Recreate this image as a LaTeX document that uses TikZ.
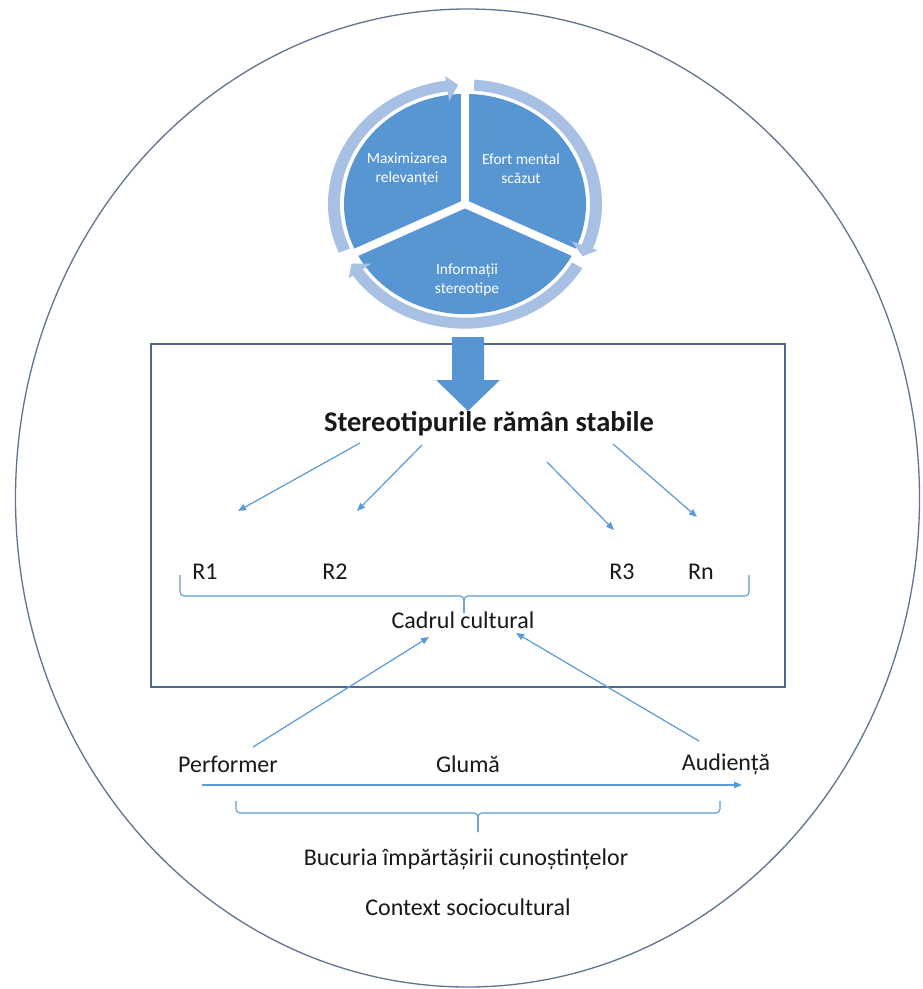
\documentclass[tikz,border=0pt]{standalone}
\usepackage{fontspec}
\setmainfont{Carlito}
\usetikzlibrary{arrows.meta}

\definecolor{accent}{RGB}{91,155,213}
\definecolor{piefill}{RGB}{88,150,211}
\definecolor{ringfill}{RGB}{168,192,228}
\definecolor{framecol}{RGB}{96,116,142}
\definecolor{boxcol}{RGB}{80,106,138}
\definecolor{inkcol}{RGB}{25,25,25}

\tikzset{
  link/.style={draw=accent, line width=1.2pt, -{Triangle[length=8pt,width=6.5pt]}},
  bracket/.style={draw=accent, line width=1.1pt, rounded corners=4pt},
  txt/.style={font=\fontsize{24}{28}\selectfont, text=inkcol, inner sep=0pt},
  headline/.style={font=\fontsize{28.5}{32}\selectfont\bfseries, text=inkcol, inner sep=0pt},
  seglabel/.style={font=\fontsize{15.5}{19}\selectfont, text=white, align=center, inner sep=0pt},
}

\begin{document}
\begin{tikzpicture}[x=1pt,y=1pt]
\useasboundingbox (0,0) rectangle (922,-989);
\fill[white] (0,0) rectangle (922,-989);

% outer frame
\draw[framecol, line width=1.3pt] (467.5,-498) ellipse [x radius=452, y radius=489];

% segmented cycle
\begin{scope}[shift={(465,-204)}, yscale=0.91]
  \fill[piefill] (0,0) -- (90:121) arc[start angle=90, end angle=206, radius=121] -- cycle;
  \fill[piefill] (0,0) -- (-26:121) arc[start angle=-26, end angle=90, radius=121] -- cycle;
  \fill[piefill] (0,0) -- (206:121) arc[start angle=206, end angle=334, radius=121] -- cycle;
  \draw[white, line width=8pt] (0,0) -- (90:150);
  \draw[white, line width=8pt] (0,0) -- (206:150);
  \draw[white, line width=8pt] (0,0) -- (-26:150);
  \fill[ringfill] (203:125) arc[start angle=203, end angle=98, radius=125]
    -- (98:114) -- (93:131) -- (98:142) -- (98:137)
    arc[start angle=98, end angle=203, radius=137] -- cycle;
  \fill[ringfill] (86:125) arc[start angle=86, end angle=-21, radius=125]
    -- (-21:114) -- (-26:131) -- (-21:142) -- (-21:137)
    arc[start angle=-21, end angle=86, radius=137] -- cycle;
  \fill[ringfill] (-31:125) arc[start angle=-31, end angle=-145, radius=125]
    -- (-145:114) -- (-150:131) -- (-145:142) -- (-145:137)
    arc[start angle=-145, end angle=-31, radius=137] -- cycle;
\end{scope}

\node[seglabel] (segA) at (407,-169) {Maximizarea\\relevanței};
\node[seglabel] (segB) at (521,-169) {Efort mental\\scăzut};
\node[seglabel] (segC) at (467,-280) {Informații\\stereotipe};

% cultural frame box
\node[draw=boxcol, line width=1.2pt, minimum width=634pt, minimum height=343pt, inner sep=0pt] (panel) at (468,-515.5) {};

% block arrow into the box
\coordinate (flowtop) at (468,-337);
\fill[piefill] (flowtop) ++(-16,0) -- ++(32,0) -- ++(0,-43) -- ++(16,0)
  -- ++(-32,-31) -- ++(-32,31) -- ++(16,0) -- cycle;

\node[headline] (title) at (489,-424) {Stereotipurile rămân stabile};

% branches towards the representations
\coordinate (a1s) at (360,-443); \coordinate (a1e) at (238,-511);
\coordinate (a2s) at (422,-445); \coordinate (a2e) at (357,-511);
\coordinate (a3s) at (547,-462); \coordinate (a3e) at (614,-530);
\coordinate (a4s) at (613,-444); \coordinate (a4e) at (697,-517);
\draw[link] (a1s) -- (a1e);
\draw[link] (a2s) -- (a2e);
\draw[link] (a3s) -- (a3e);
\draw[link] (a4s) -- (a4e);

\node[txt] (r1) at (205,-572) {R1};
\node[txt] (r2) at (335,-572) {R2};
\node[txt] (r3) at (622,-572) {R3};
\node[txt] (rn) at (701,-572) {Rn};

% brace grouping R1..Rn
\coordinate (tbL) at (180,-575);
\coordinate (tbR) at (749,-575);
\coordinate (tbM) at (464,-613);
\draw[bracket] (tbL) -- (180,-596) -- (464,-596) -- (tbM);
\draw[bracket] (tbR) -- (749,-596) -- (464,-596) -- (tbM);

\node[txt] (cadru) at (463,-620) {Cadrul cultural};

% performer / joke / audience
\node[txt] (perf) at (228,-764) {Performer};
\node[txt] (gluma) at (468,-764) {Glumă};
\node[txt] (aud) at (726,-764) {Audiență};

\coordinate (p1) at (253,-747); \coordinate (p2) at (429,-637);
\coordinate (q1) at (699,-741); \coordinate (q2) at (516,-633);
\draw[link] (p1) -- (p2);
\draw[link] (q1) -- (q2);

\coordinate (flowL) at (202,-785); \coordinate (flowR) at (742,-785);
\draw[link] (flowL) -- (flowR);

% brace under the exchange
\coordinate (bbL) at (236,-801);
\coordinate (bbR) at (720,-801);
\coordinate (bbM) at (478,-832);
\draw[bracket] (bbL) -- (236,-813) -- (478,-813) -- (bbM);
\draw[bracket] (bbR) -- (720,-813) -- (478,-813) -- (bbM);

\node[txt] (bucuria) at (466,-859) {Bucuria împărtășirii cunoștințelor};
\node[txt] (context) at (468,-907) {Context sociocultural};
\end{tikzpicture}
\end{document}
